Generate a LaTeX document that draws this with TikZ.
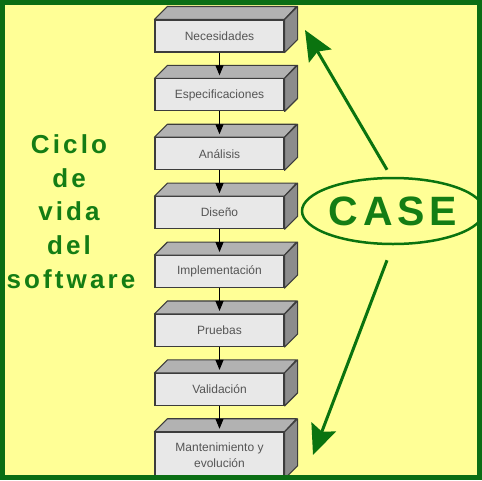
\documentclass[tikz,border=0pt]{standalone}
\usepackage{fontspec}
\setmainfont{Liberation Sans}
\newfontfamily\spacedfont[LetterSpace=12]{Liberation Sans}
\usetikzlibrary{arrows.meta,shapes.geometric,calc}
\definecolor{bgyellow}{RGB}{255,255,150}
\definecolor{framegreen}{RGB}{10,110,20}
\definecolor{textgreen}{RGB}{20,125,20}
\definecolor{arrowgreen}{RGB}{10,115,15}
\definecolor{frontgray}{RGB}{232,232,232}
\definecolor{topgray}{RGB}{178,178,178}
\definecolor{sidegray}{RGB}{140,140,140}
\definecolor{edgegray}{RGB}{60,60,60}
\definecolor{labelgray}{RGB}{85,85,85}
\tikzset{
  stage/.style={draw=edgegray, line width=1.1pt, fill=frontgray, rectangle,
    minimum width=129pt, inner sep=0pt, align=center, text=labelgray,
    font=\fontsize{12}{15}\selectfont},
  topface/.style={draw=edgegray, line width=1.1pt, fill=topgray, line join=round},
  sideface/.style={draw=edgegray, line width=1.1pt, fill=sidegray, line join=round},
  flow/.style={draw=black, line width=1pt, -{Triangle[length=10pt,width=8pt]}, shorten >=3pt},
  lifetext/.style={text=textgreen, anchor=base, inner sep=0pt,
    font=\spacedfont\bfseries\fontsize{26}{30}\selectfont},
  casearrow/.style={draw=arrowgreen, line width=3pt,
    -{Stealth[length=30pt,width=26pt,inset=5pt]}},
}
\begin{document}
\begin{tikzpicture}[x=1pt,y=-1pt]
\fill[bgyellow] (0,0) rectangle (482,480);
\useasboundingbox (0,0) rectangle (482,480);
% stages
\foreach \t/\h [count=\k] in {Necesidades/32, Especificaciones/32, Análisis/32,
  Diseño/32, Implementación/32, Pruebas/32, Validación/32,
  {Mantenimiento y\\[1pt]evolución}/46}{
  \node[stage, minimum height=\h pt] (b\k) at (219.5, {20+58.9*(\k-1)+\h/2}) {\t};
  \filldraw[topface] (b\k.north west) -- ++(13,-13) -- ++(129,0) -- (b\k.north east) -- cycle;
  \filldraw[sideface] (b\k.north east) -- ++(13,-13) -- ($(b\k.south east)+(13,-13)$) -- (b\k.south east) -- cycle;
}
\foreach \k [evaluate=\k as \n using {int(\k+1)}] in {1,...,7}{
  \draw[flow] (b\k.south) -- (b\n.north);
}
% left title
\node[lifetext] (l1) at (69,153) {Ciclo};
\node[lifetext] (l2) at (69,187) {de};
\node[lifetext] (l3) at (69,220) {vida};
\node[lifetext] (l4) at (69,254) {del};
\node[lifetext] (l5) at (71,288) {software};
% CASE
\node[ellipse, draw=arrowgreen, line width=2.5pt, minimum width=164pt, minimum height=66pt,
  inner sep=0pt, text=textgreen, font=\spacedfont\bfseries\fontsize{41}{45}\selectfont]
  (case) at (393,211) {CASE};
\coordinate (uptip) at (305,30);
\coordinate (downtip) at (313,455);
\draw[casearrow] ([shift={(-6,-7)}]case.north) -- (uptip);
\draw[casearrow] ([shift={(-6,15)}]case.south) -- (downtip);
% frame
\draw[framegreen, line width=5pt] (2.5,2.5) rectangle (479.5,477.5);
\end{tikzpicture}
\end{document}
